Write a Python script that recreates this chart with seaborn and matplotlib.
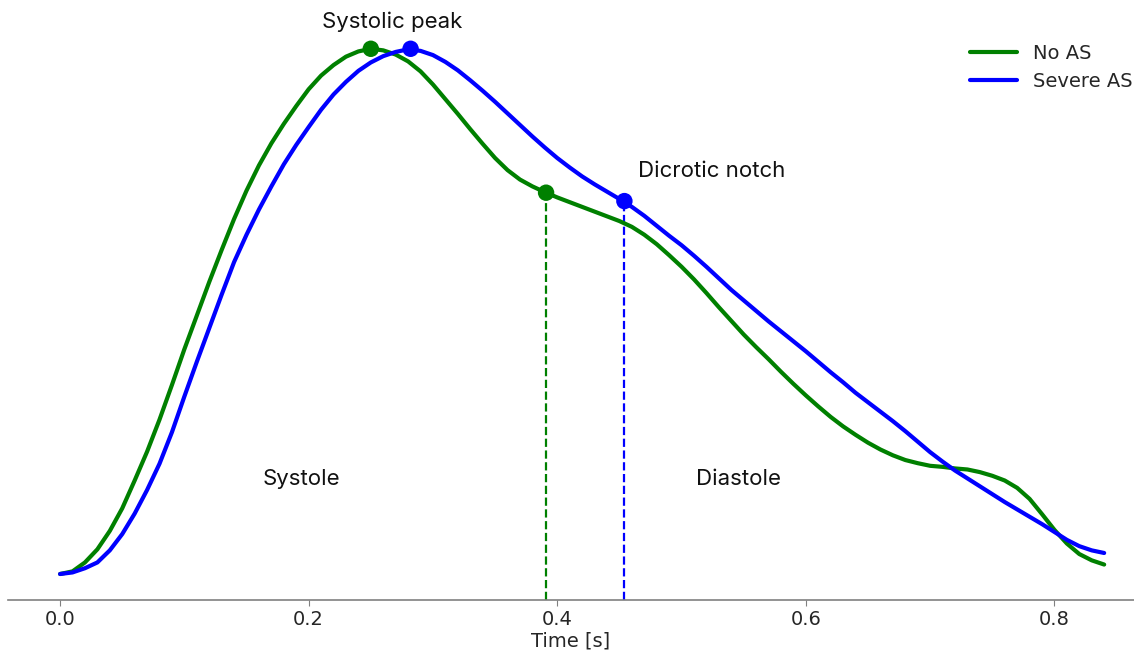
import numpy as np
import pandas as pd
import matplotlib
matplotlib.use("Agg")
import matplotlib.pyplot as plt
import seaborn as sns

# time [s], one reading every 10 ms
time_s = [round(0.01 * i, 2) for i in range(85)]

# normalised pressure
p_no_as = [0.000, 0.005, 0.022, 0.047, 0.082, 0.125, 0.178, 0.233, 0.294, 0.360,
           0.428, 0.492, 0.556, 0.617, 0.676, 0.730, 0.778, 0.820, 0.857, 0.891,
           0.923, 0.949, 0.969, 0.985, 0.995, 1.000, 0.997, 0.989, 0.976, 0.957,
           0.932, 0.904, 0.876, 0.847, 0.819, 0.792, 0.769, 0.751, 0.738, 0.727,
           0.717, 0.708, 0.699, 0.690, 0.681, 0.672, 0.661, 0.646, 0.628, 0.607,
           0.585, 0.561, 0.535, 0.508, 0.482, 0.456, 0.432, 0.409, 0.385, 0.362,
           0.340, 0.319, 0.299, 0.281, 0.265, 0.250, 0.237, 0.226, 0.217, 0.211,
           0.206, 0.204, 0.201, 0.199, 0.194, 0.187, 0.178, 0.164, 0.143, 0.114,
           0.084, 0.058, 0.038, 0.026, 0.018]
p_severe = [0.000, 0.003, 0.011, 0.022, 0.045, 0.076, 0.115, 0.160, 0.210, 0.270,
            0.338, 0.404, 0.468, 0.532, 0.594, 0.646, 0.694, 0.738, 0.780, 0.817,
            0.851, 0.884, 0.913, 0.937, 0.958, 0.974, 0.986, 0.994, 0.999, 0.996,
            0.988, 0.975, 0.959, 0.940, 0.920, 0.899, 0.877, 0.855, 0.833, 0.812,
            0.792, 0.774, 0.757, 0.742, 0.728, 0.714, 0.699, 0.682, 0.663, 0.644,
            0.626, 0.606, 0.585, 0.563, 0.541, 0.521, 0.501, 0.481, 0.462, 0.443,
            0.424, 0.404, 0.384, 0.365, 0.345, 0.327, 0.309, 0.291, 0.272, 0.252,
            0.232, 0.214, 0.197, 0.182, 0.167, 0.152, 0.137, 0.123, 0.109, 0.095,
            0.080, 0.065, 0.053, 0.045, 0.040]

# systolic peak and dicrotic notch for each curve
peak_t = [0.250, 0.282]
peak_p = [1.0, 1.0]
notch_t = [0.391, 0.454]
notch_p = [0.726, 0.710]
groups = ["No AS", "Severe AS"]
colors = {"No AS": "green", "Severe AS": "blue"}

curves = pd.concat([
    pd.DataFrame({"time": time_s, "pressure": p_no_as, "group": "No AS"}),
    pd.DataFrame({"time": time_s, "pressure": p_severe, "group": "Severe AS"}),
])
points = pd.DataFrame({
    "time": peak_t + notch_t,
    "pressure": peak_p + notch_p,
    "group": groups + groups,
})

sns.set_style("white")
plt.rcParams["font.family"] = ["DejaVu Sans"]

fig = plt.figure(figsize=(11.34, 6.55), dpi=100)
ax = fig.add_axes([8 / 1134, 55 / 655, 1 - 8 / 1134, 578 / 655])

sns.lineplot(data=curves, x="time", y="pressure", hue="group", palette=colors,
             linewidth=3, sort=False, ax=ax, zorder=2)

ymin = -0.0495
for nt, npk, g in zip(notch_t, notch_p, groups):
    ax.vlines(nt, ymin, npk, colors=colors[g], linestyles="--", linewidth=1.6, zorder=1)

sns.scatterplot(data=points, x="time", y="pressure", hue="group", palette=colors,
                s=140, edgecolor="none", legend=False, ax=ax, zorder=3)

ax.set_xlim(-0.0419, 0.864)
ax.set_ylim(ymin, 1.051)

ann = dict(fontsize=16, family=["Inter", "DejaVu Sans"], ha="center", va="baseline", color="#111111")
ax.text(0.267, 1.040, "Systolic peak", **ann)
ax.text(0.524, 0.756, "Dicrotic notch", **ann)
ax.text(0.194, 0.170, "Systole", **ann)
ax.text(0.546, 0.170, "Diastole", **ann)

sns.despine(ax=ax, left=True, top=True, right=True)
ax.spines["bottom"].set_color("#808080")
ax.spines["bottom"].set_linewidth(1.2)
ax.set_yticks([])
ax.set_ylabel("")
ax.set_xticks([0.0, 0.2, 0.4, 0.6, 0.8])
ax.tick_params(axis="x", bottom=True, length=4, color="#808080", labelsize=14, pad=3)
ax.set_xlabel("Time [s]", fontsize=14, labelpad=2)

leg = ax.legend(loc="upper right", bbox_to_anchor=(1.014, 0.993), frameon=False,
                fontsize=14, handlelength=2.4, title=None)
for line in leg.get_lines():
    line.set_linewidth(3)

fig.savefig("out.png", dpi=100)
